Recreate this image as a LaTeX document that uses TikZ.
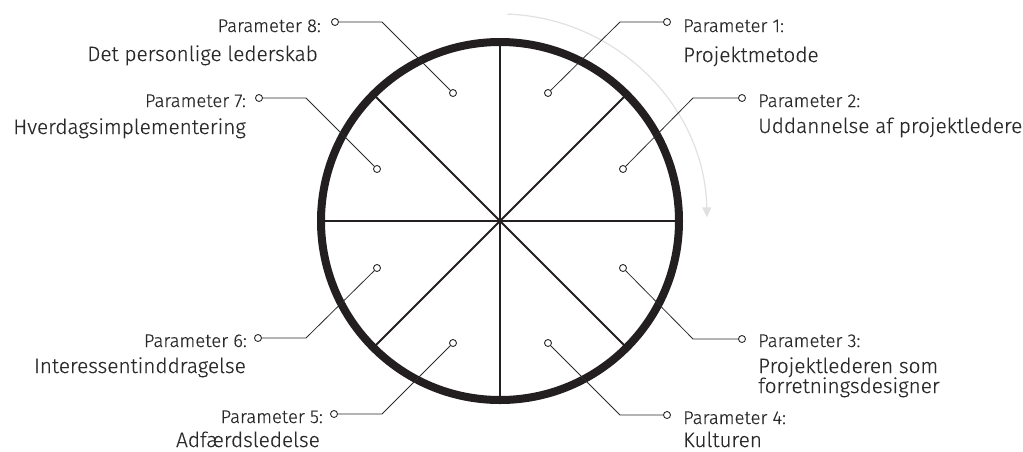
\documentclass[tikz,border=0pt]{standalone}
\usepackage{fontspec}
\setmainfont{Fira Sans Light}[FakeBold=0.4]
\usetikzlibrary{arrows.meta,calc}
\definecolor{ink}{HTML}{231F20}
\definecolor{txt}{HTML}{2A2A2A}
\definecolor{arr}{HTML}{E0E1E3}
\tikzset{
  ringline/.style={draw=ink, line width=8pt},
  spoke/.style={draw=ink, line width=1.8pt},
  lead/.style={draw=txt, line width=0.8pt},
  dot/.style={circle, draw=txt, fill=white, line width=0.9pt, inner sep=0pt, minimum size=7pt},
  plabel/.style={font=\fontsize{18.5}{19}\selectfont, text=txt, inner sep=0pt},
  pname/.style={font=\fontsize{20.8}{22}\selectfont, text=txt, inner sep=0pt},
}
\begin{document}
\begin{tikzpicture}[x=1pt,y=-1pt]
\useasboundingbox (0,0) rectangle (1023,451);
\coordinate (O) at (500,221);
% direction arrow
\draw[draw=arr, line width=1.2pt, -{Triangle[width=9pt,length=10pt]}]
  (507.2,14.1) arc[start angle=88, end angle=1, radius=207pt];
% spokes
\foreach \a in {0,45,90,135}
  \draw[spoke] ($(O)+(\a:176pt)$) -- ($(O)+(\a+180:176pt)$);
% ring
\draw[ringline] (O) circle[radius=179pt];
% inner dots
\node[dot] (i1) at (548,93) {};
\node[dot] (i2) at (623,169) {};
\node[dot] (i3) at (623,268) {};
\node[dot] (i4) at (548,343) {};
\node[dot] (i5) at (453,343) {};
\node[dot] (i6) at (377,268) {};
\node[dot] (i7) at (377,169) {};
\node[dot] (i8) at (453,93) {};
% outer dots
\node[dot] (o1) at (667,22) {};
\node[dot] (o2) at (742,98) {};
\node[dot] (o3) at (742,339) {};
\node[dot] (o4) at (667,415) {};
\node[dot] (o5) at (334,414) {};
\node[dot] (o6) at (258,338) {};
\node[dot] (o7) at (259,98) {};
\node[dot] (o8) at (335,22) {};
% corners
\coordinate (c1) at (620,22);
\coordinate (c2) at (693,98);
\coordinate (c3) at (693,339);
\coordinate (c4) at (620,415);
\coordinate (c5) at (382,414);
\coordinate (c6) at (306,338);
\coordinate (c7) at (306,98);
\coordinate (c8) at (382,22);
\foreach \k in {1,...,8}
  \draw[lead] (i\k) -- (c\k) -- (o\k);
% labels right
\node[plabel, anchor=base west] (p1) at (683,32) {Parameter 1:};
\node[pname, anchor=base west] (n1) at (683,62) {Projektmetode};
\node[plabel, anchor=base west] (p2) at (758,107) {Parameter 2:};
\node[pname, anchor=base west] (n2) at (758,133) {Uddannelse af projektledere};
\node[plabel, anchor=base west] (p3) at (758,347) {Parameter 3:};
\node[pname, anchor=base west] (n3a) at (758,373) {Projektlederen som};
\node[pname, anchor=base west] (n3b) at (758,393) {forretningsdesigner};
\node[plabel, anchor=base west] (p4) at (683,424) {Parameter 4:};
\node[pname, anchor=base west] (n4) at (683,447) {Kulturen};
% labels left
\node[plabel, anchor=base east] (p8) at (321,32) {Parameter 8:};
\node[pname, anchor=base east] (n8) at (318,61) {Det personlige lederskab};
\node[plabel, anchor=base east] (p7) at (246,107) {Parameter 7:};
\node[pname, anchor=base east] (n7) at (246,134) {Hverdagsimplementering};
\node[plabel, anchor=base east] (p6) at (247,347) {Parameter 6:};
\node[pname, anchor=base east] (n6) at (246,373) {Interessentinddragelse};
\node[plabel, anchor=base east] (p5) at (323,423) {Parameter 5:};
\node[pname, anchor=base east] (n5) at (320,447) {Adfærdsledelse};
\end{tikzpicture}
\end{document}
